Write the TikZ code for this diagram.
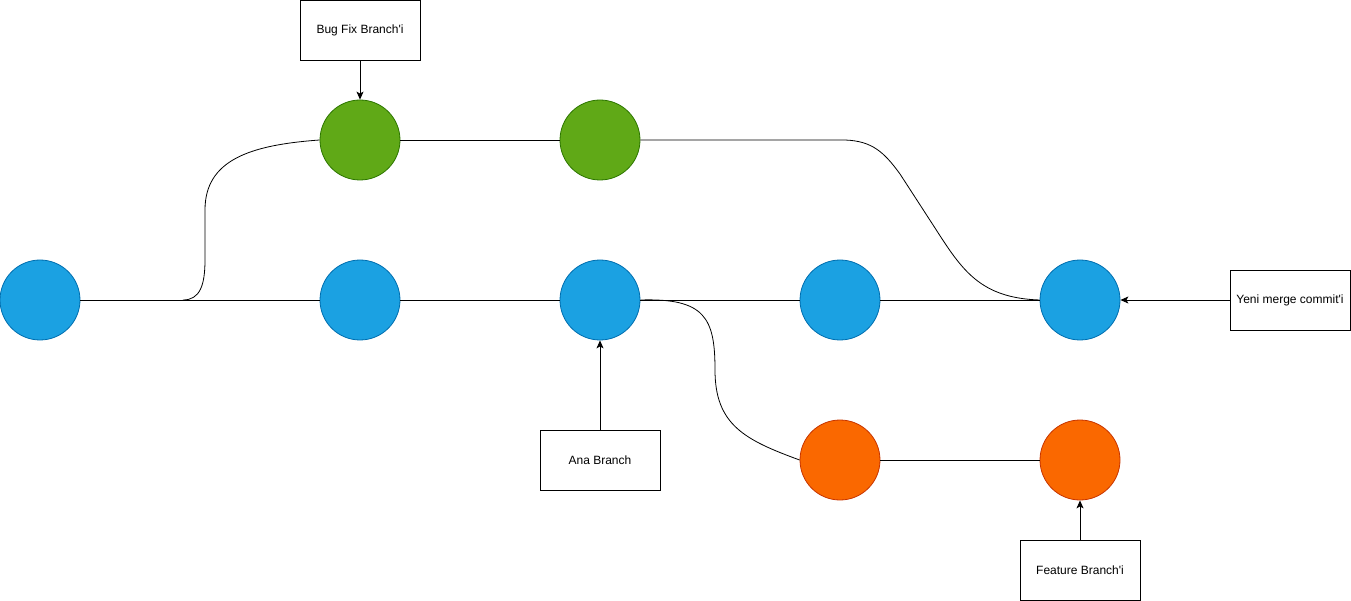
\documentclass[tikz,border=0pt]{standalone}
\usepackage{fontspec}
\setmainfont{Liberation Sans}
\usetikzlibrary{arrows.meta}
\definecolor{bfill}{HTML}{1BA1E2}\definecolor{bdraw}{HTML}{006EAF}
\definecolor{gfill}{HTML}{60A917}\definecolor{gdraw}{HTML}{2D7600}
\definecolor{ofill}{HTML}{FA6800}\definecolor{odraw}{HTML}{C73500}
\begin{document}
\begin{tikzpicture}[x=1pt,y=-1pt,
  commit/.style={circle,minimum size=80pt,inner sep=0pt,line width=0.8pt},
  blue/.style={commit,fill=bfill,draw=bdraw},
  green/.style={commit,fill=gfill,draw=gdraw},
  orange/.style={commit,fill=ofill,draw=odraw},
  label/.style={draw,line width=0.8pt,minimum width=120pt,minimum height=60pt,inner sep=0pt,font=\fontsize{12}{14}\selectfont},
  link/.style={line width=0.8pt},
  ptr/.style={line width=0.8pt,-{Stealth[length=8pt,width=7pt,inset=2pt]}}]
\useasboundingbox (0,0) rectangle (1351,601);
\node[blue] (b1) at (40,300) {};
\node[blue] (b2) at (360,300) {};
\node[blue] (b3) at (600,300) {};
\node[blue] (b4) at (840,300) {};
\node[blue] (b5) at (1080,300) {};
\node[green] (g1) at (360,140) {};
\node[green] (g2) at (600,140) {};
\node[orange] (o1) at (840,460) {};
\node[orange] (o2) at (1080,460) {};
\node[label] (bug) at (360,30) {Bug Fix Branch\textquotesingle i};
\node[label] (yeni) at (1290,300) {Yeni merge commit\textquotesingle i};
\node[label] (ana) at (600,460) {Ana Branch};
\node[label] (feat) at (1080,570) {Feature Branch\textquotesingle i};
\coordinate (c1) at (183,300);
\draw[link] (b1.east) -- (b2.west);
\draw[link] (b2.east) -- (b3.west);
\draw[link] (b3.east) -- (b4.west);
\draw[link] (b4.east) -- (b5.west);
\draw[link] (g1.east) -- (g2.west);
\draw[link] (o1.east) -- (o2.west);
\draw[link] (c1) .. controls (200,300) and (205,285) .. (205,260) -- (205,210) .. controls (205,160) and (250,145) .. (g1.west);
\draw[link] (g2.east) -- (845,140) .. controls (872,141) and (884,152) .. (900,174) -- (935,228) .. controls (962,270) and (980,298) .. (b5.west);
\draw[link] (b3.east) .. controls (705,298) and (715,318) .. (715,370) .. controls (715,425) and (745,440) .. (o1.west);
\draw[ptr] (bug) -- (g1);
\draw[ptr] (yeni) -- (b5);
\draw[ptr] (ana) -- (b3);
\draw[ptr] (feat) -- (o2);
\end{tikzpicture}
\end{document}
